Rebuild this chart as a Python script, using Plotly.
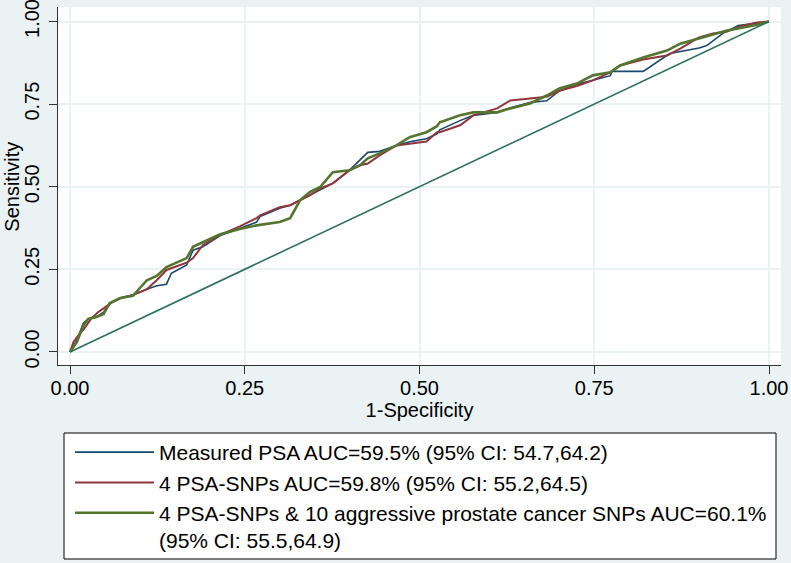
import plotly.graph_objects as go

# ---- data ----
psa_x = [0, 0.01, 0.019, 0.026, 0.038, 0.048, 0.057, 0.072, 0.09, 0.11, 0.124, 0.138, 0.145, 0.167, 0.176, 0.19, 0.215, 0.243, 0.267, 0.272, 0.30, 0.315, 0.329, 0.343, 0.358, 0.376, 0.40, 0.415, 0.426, 0.443, 0.467, 0.486, 0.51, 0.525, 0.529, 0.558, 0.577, 0.611, 0.63, 0.658, 0.682, 0.70, 0.725, 0.748, 0.773, 0.775, 0.82, 0.858, 0.90, 0.911, 0.934, 0.956, 1.0]
psa_y = [0, 0.036, 0.087, 0.10, 0.106, 0.12, 0.148, 0.163, 0.172, 0.19, 0.20, 0.205, 0.238, 0.263, 0.308, 0.318, 0.352, 0.374, 0.393, 0.41, 0.435, 0.444, 0.459, 0.474, 0.492, 0.51, 0.55, 0.58, 0.604, 0.607, 0.625, 0.636, 0.645, 0.66, 0.672, 0.70, 0.716, 0.725, 0.739, 0.755, 0.76, 0.79, 0.81, 0.822, 0.836, 0.849, 0.849, 0.903, 0.92, 0.927, 0.964, 0.988, 1.0]

snp4_x = [0, 0.005, 0.012, 0.02, 0.03, 0.04, 0.05, 0.06, 0.075, 0.09, 0.11, 0.124, 0.138, 0.167, 0.176, 0.19, 0.215, 0.243, 0.267, 0.272, 0.30, 0.315, 0.329, 0.343, 0.358, 0.376, 0.40, 0.415, 0.426, 0.443, 0.467, 0.486, 0.51, 0.525, 0.529, 0.558, 0.577, 0.611, 0.63, 0.658, 0.682, 0.70, 0.725, 0.748, 0.773, 0.787, 0.82, 0.854, 0.873, 0.90, 0.92, 0.94, 0.958, 0.983, 1.0]
snp4_y = [0, 0.03, 0.05, 0.07, 0.10, 0.12, 0.135, 0.15, 0.165, 0.172, 0.19, 0.217, 0.248, 0.27, 0.284, 0.323, 0.354, 0.38, 0.405, 0.413, 0.438, 0.444, 0.459, 0.474, 0.495, 0.51, 0.55, 0.565, 0.57, 0.595, 0.625, 0.631, 0.637, 0.665, 0.665, 0.686, 0.716, 0.737, 0.761, 0.767, 0.772, 0.79, 0.805, 0.822, 0.846, 0.867, 0.885, 0.897, 0.918, 0.952, 0.964, 0.97, 0.985, 0.997, 1.0]

snp14_x = [0, 0.01, 0.019, 0.026, 0.038, 0.048, 0.057, 0.072, 0.09, 0.11, 0.124, 0.138, 0.167, 0.176, 0.19, 0.215, 0.243, 0.267, 0.30, 0.315, 0.329, 0.343, 0.358, 0.376, 0.40, 0.415, 0.426, 0.443, 0.467, 0.486, 0.51, 0.525, 0.529, 0.558, 0.577, 0.611, 0.63, 0.658, 0.682, 0.70, 0.725, 0.748, 0.773, 0.787, 0.82, 0.854, 0.873, 0.90, 0.92, 0.94, 0.958, 0.983, 1.0]
snp14_y = [0, 0.03, 0.08, 0.10, 0.106, 0.115, 0.148, 0.163, 0.17, 0.217, 0.23, 0.257, 0.284, 0.318, 0.332, 0.356, 0.372, 0.383, 0.393, 0.405, 0.459, 0.484, 0.499, 0.544, 0.55, 0.565, 0.586, 0.601, 0.625, 0.65, 0.665, 0.683, 0.695, 0.716, 0.725, 0.725, 0.737, 0.752, 0.776, 0.797, 0.812, 0.837, 0.846, 0.867, 0.891, 0.912, 0.933, 0.949, 0.96, 0.973, 0.98, 0.99, 1.0]

ref_x = [0, 1]
ref_y = [0, 1]

tick_vals = [0, 0.25, 0.5, 0.75, 1.0]
tick_text = ["0.00", "0.25", "0.50", "0.75", "1.00"]

names = [
    "Measured PSA AUC=59.5% (95% CI: 54.7,64.2)",
    "4 PSA-SNPs AUC=59.8% (95% CI: 55.2,64.5)",
    "4 PSA-SNPs &amp; 10 aggressive prostate cancer SNPs AUC=60.1%<br>(95% CI: 55.5,64.9)",
]
colors = ["#1a476f", "#90353b", "#55752f"]
widths = [1.6, 2.0, 2.6]

FONT = "Liberation Sans, Arial, sans-serif"

fig = go.Figure()
series = [(psa_x, psa_y), (snp4_x, snp4_y), (snp14_x, snp14_y)]
for i, (xs, ys) in enumerate(series):
    fig.add_trace(go.Scatter(
        x=xs, y=ys, mode="lines", name=names[i],
        line=dict(color=colors[i], width=widths[i]),
        legendgroup=f"g{i}",
    ))
fig.add_trace(go.Scatter(
    x=ref_x, y=ref_y, mode="lines", showlegend=False,
    line=dict(color="#2e7060", width=1.6),
))

W, H = 791, 563
L, R, T, B = 58, 10, 7, 198
pw, ph = W - L - R, H - T - B

def px_to_paper_x(px):
    return (px - L) / pw

def py_to_paper_y(py):
    return (H - B - py) / ph

# legend box
fig.add_shape(type="rect", xref="paper", yref="paper",
              x0=px_to_paper_x(64), x1=px_to_paper_x(776),
              y0=py_to_paper_y(559), y1=py_to_paper_y(433),
              line=dict(color="#000000", width=1), fillcolor="#ffffff", layer="below")

# y-axis title
fig.add_annotation(text="Sensitivity", textangle=-90, xref="paper", yref="y",
                   x=px_to_paper_x(12), y=0.5, xanchor="center", yanchor="middle",
                   showarrow=False, font=dict(family=FONT, size=20, color="#000000"))

grid = "#eaf2f3"
fig.update_layout(
    width=W, height=H,
    margin=dict(l=L, r=R, t=T, b=B, autoexpand=False),
    paper_bgcolor="#eaf2f3",
    plot_bgcolor="#ffffff",
    font=dict(family=FONT, size=20, color="#000000"),
    showlegend=True,
    legend=dict(
        xref="container", yref="container",
        x=70 / W, y=1 - 432 / H, xanchor="left", yanchor="top",
        bgcolor="rgba(0,0,0,0)", borderwidth=0,
        itemwidth=79, valign="top",
        tracegroupgap=0,
        font=dict(family=FONT, size=21, color="#000000"),
    ),
    xaxis=dict(
        range=[-0.01717, 1.01717], tickvals=tick_vals, ticktext=tick_text,
        showgrid=True, gridcolor=grid, gridwidth=1.5,
        showline=True, linecolor="#333333", linewidth=1.3, mirror=False,
        ticks="outside", ticklen=8, tickcolor="#333333", tickwidth=1.3,
        zeroline=False, ticklabeloverflow="allow", ticklabelstandoff=-3,
        title=dict(text="1-Specificity", standoff=0, font=dict(size=20)),
        tickfont=dict(size=20),
    ),
    yaxis=dict(
        range=[-0.0396, 1.0439], tickvals=tick_vals, ticktext=tick_text,
        showgrid=True, gridcolor=grid, gridwidth=1.5,
        showline=True, linecolor="#333333", linewidth=1.3, mirror=False,
        ticks="outside", ticklen=8, tickcolor="#333333", tickwidth=1.3,
        zeroline=False, tickangle=-90, ticklabeloverflow="allow",
        ticklabelstandoff=2,
        tickfont=dict(size=20),
    ),
)

fig.write_html("out.html", config={"displayModeBar": False},
               post_script="document.body.style.margin='0';")
